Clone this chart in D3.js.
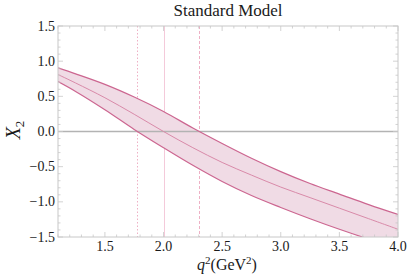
<!DOCTYPE html>
<html>
<head>
<meta charset="utf-8" />
<title>Standard Model</title>
<script src="https://d3js.org/d3.v7.min.js"></script>
<style>
  body { margin: 0; background: #fff; }
  text { font-family: "Liberation Serif", "DejaVu Serif", serif; fill: #1a1a1a; }
</style>
</head>
<body>
<svg width="407" height="280" id="svg1"></svg>
<script>
// q^2 grid (GeV^2)
var q2 = [1.1, 1.25, 1.5, 1.75, 2.0, 2.25, 2.5, 2.75, 3.0, 3.25, 3.5, 3.75, 4.0];
// X_2 central value and band edges
var central = [0.81, 0.69, 0.48, 0.245, 0.0, -0.23, -0.44, -0.62, -0.79, -0.94, -1.09, -1.24, -1.39];
var upper   = [0.905, 0.82, 0.67, 0.49, 0.285, 0.05, -0.17, -0.38, -0.57, -0.74, -0.89, -1.04, -1.18];
var lower   = [0.71, 0.57, 0.31, 0.03, -0.23, -0.48, -0.71, -0.91, -1.08, -1.24, -1.39, -1.53, -1.66];
// vertical markers
var vlines = [
  {x: 1.777, dash: "1.5,2", color: "#eeb0c5"},
  {x: 2.0, dash: null, color: "#f4cada"},
  {x: 2.3, dash: "3,2", color: "#eeb0c5"}
];
var xTicks = [1.5, 2.0, 2.5, 3.0, 3.5, 4.0];
var yTicks = [-1.5, -1.0, -0.5, 0.0, 0.5, 1.0, 1.5];

var L = 58, R = 398, T = 26, B = 237;
var svg = d3.select("#svg1");
var x = d3.scaleLinear().domain([1.1, 4.0]).range([L, R]);
var y = d3.scaleLinear().domain([-1.5, 1.5]).range([B, T]);

var pts = q2.map(function(d, i) { return {q: d, c: central[i], u: upper[i], l: lower[i]}; });

svg.append("clipPath").attr("id", "clip")
  .append("rect").attr("x", L).attr("y", T).attr("width", R - L).attr("height", B - T);

var g = svg.append("g").attr("clip-path", "url(#clip)");

// vertical marker lines
g.selectAll(".vl").data(vlines).enter().append("line")
  .attr("x1", function(d) { return Math.round(x(d.x)) + 0.5; })
  .attr("x2", function(d) { return Math.round(x(d.x)) + 0.5; })
  .attr("y1", T).attr("y2", B)
  .attr("stroke", function(d) { return d.color; }).attr("stroke-width", 1)
  .attr("stroke-dasharray", function(d) { return d.dash; });

// band
var area = d3.area().curve(d3.curveCatmullRom)
  .x(function(d) { return x(d.q); })
  .y0(function(d) { return y(d.l); })
  .y1(function(d) { return y(d.u); });
g.append("path").datum(pts).attr("d", area).attr("fill", "#f0dbe5");

// zero line
g.append("line").attr("x1", L).attr("x2", R).attr("y1", y(0)).attr("y2", y(0))
  .attr("stroke", "#b3b3b3").attr("stroke-width", 1.5);

function line(key) {
  return d3.line().curve(d3.curveCatmullRom)
    .x(function(d) { return x(d.q); })
    .y(function(d) { return y(d[key]); });
}
g.append("path").datum(pts).attr("d", line("u")).attr("fill", "none").attr("stroke", "#cc6690").attr("stroke-width", 1.2);
g.append("path").datum(pts).attr("d", line("l")).attr("fill", "none").attr("stroke", "#cc6690").attr("stroke-width", 1.2);
g.append("path").datum(pts).attr("d", line("c")).attr("fill", "none").attr("stroke", "#d98aa9").attr("stroke-width", 1);

// frame
svg.append("rect").attr("x", L).attr("y", T).attr("width", R - L).attr("height", B - T)
  .attr("fill", "none").attr("stroke", "#c8c8c8").attr("stroke-width", 1);

// ticks on all four sides
var xMinor = d3.range(11, 41).map(function(v) { return v / 10; });
var yMinor = d3.range(-15, 16).map(function(v) { return v / 10; });
var tk = svg.append("g").attr("stroke", "#c8c8c8").attr("stroke-width", 0.8);
xMinor.forEach(function(v) {
  var len = (Math.abs(v * 2 - Math.round(v * 2)) < 1e-6) ? 5 : 2.5;
  tk.append("line").attr("x1", x(v)).attr("x2", x(v)).attr("y1", B).attr("y2", B - len);
  tk.append("line").attr("x1", x(v)).attr("x2", x(v)).attr("y1", T).attr("y2", T + len);
});
yMinor.forEach(function(v) {
  var len = (Math.abs(v * 2 - Math.round(v * 2)) < 1e-6) ? 5 : 2.5;
  tk.append("line").attr("x1", L).attr("x2", L + len).attr("y1", y(v)).attr("y2", y(v));
  tk.append("line").attr("x1", R).attr("x2", R - len).attr("y1", y(v)).attr("y2", y(v));
});

function fmt(v) { return (v < 0 ? "\u2212" : "") + Math.abs(v).toFixed(1); }

svg.selectAll(".xt").data(xTicks).enter().append("text")
  .attr("x", function(d) { return x(d); }).attr("y", 251)
  .attr("text-anchor", "middle").attr("font-size", 14)
  .text(fmt);
svg.selectAll(".yt").data(yTicks).enter().append("text")
  .attr("x", 55).attr("y", function(d) { return y(d) + 4.5; })
  .attr("text-anchor", "end").attr("font-size", 14)
  .text(fmt);

// title
svg.append("text").attr("x", 228).attr("y", 16).attr("text-anchor", "middle")
  .attr("font-size", 17).text("Standard Model");

// x label
var xl = svg.append("text").attr("x", 227).attr("y", 270).attr("text-anchor", "middle").attr("font-size", 16);
xl.append("tspan").attr("font-style", "italic").text("q");
xl.append("tspan").attr("dy", -6).attr("font-size", 11).text("2");
xl.append("tspan").attr("dy", 6).text("(GeV");
xl.append("tspan").attr("dy", -6).attr("font-size", 11).text("2");
xl.append("tspan").attr("dy", 6).text(")");

// y label
var yl = svg.append("text").attr("transform", "translate(20,130) rotate(-90)")
  .attr("text-anchor", "middle").attr("font-size", 20);
yl.append("tspan").attr("font-style", "italic").text("X");
yl.append("tspan").attr("dy", 4).attr("font-size", 13).text("2");
</script>
</body>
</html>
